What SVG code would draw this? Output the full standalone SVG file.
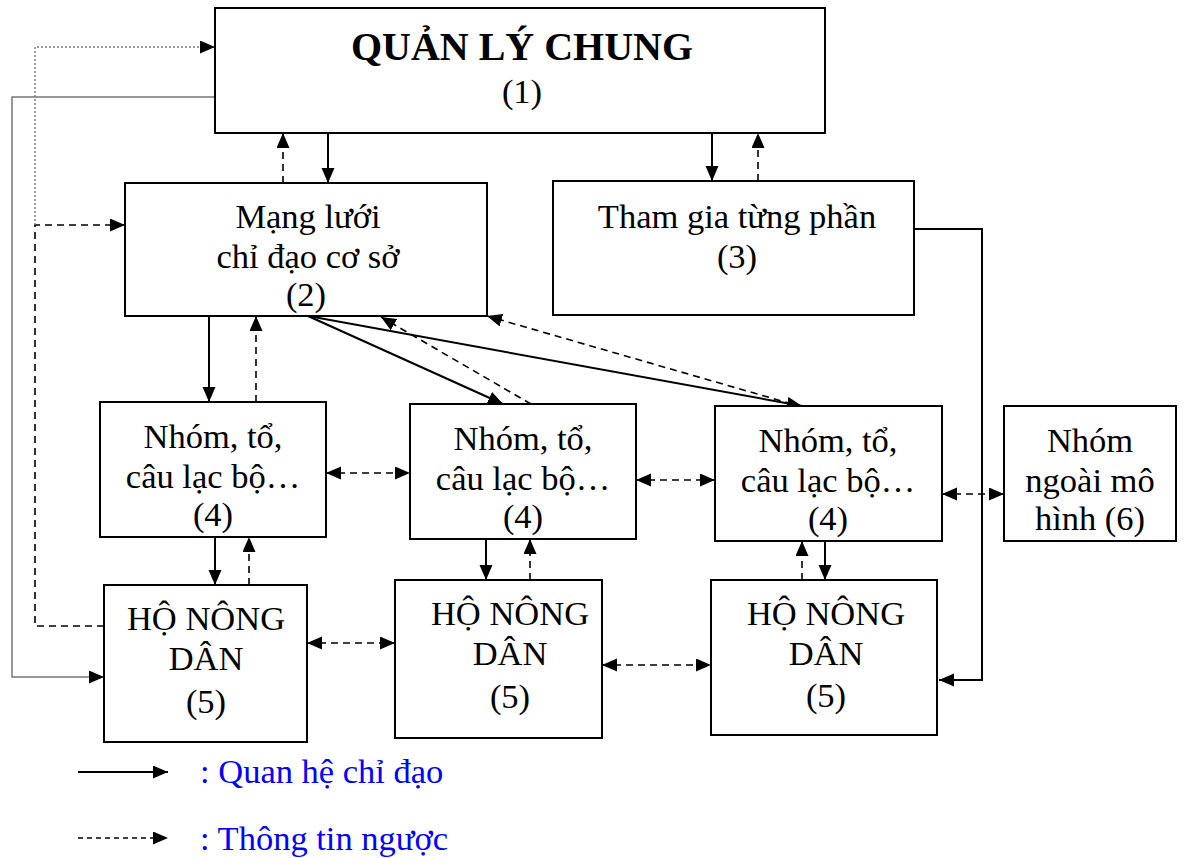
<svg xmlns="http://www.w3.org/2000/svg" width="1187" height="858" viewBox="0 0 1187 858">
  <style>
    .box { fill: #fff; stroke: #000; stroke-width: 2; }
    .t { font-family: "Liberation Serif", "Times New Roman", serif; font-size: 34.5px; fill: #000; text-anchor: middle; }
    .title { font-weight: bold; font-size: 40px; }
    .solid { fill: none; stroke: #000; stroke-width: 2; }
    .dash { fill: none; stroke: #000; stroke-width: 1.6; stroke-dasharray: 7 5; }
    .dot { fill: none; stroke: #777; stroke-width: 1.4; stroke-dasharray: 2 2; }
    .gray { fill: none; stroke: #777; stroke-width: 1.5; }
    .leg { font-family: "Liberation Serif", "Times New Roman", serif; font-size: 34.5px; fill: #0000ff; }
  </style>
  <defs>
    <marker id="arr" markerUnits="userSpaceOnUse" markerWidth="16" markerHeight="14" refX="15" refY="6.5" orient="auto-start-reverse">
      <path d="M0,0 L15,6.5 L0,13 z" fill="#000"/>
    </marker>
  </defs>
  <rect width="1187" height="858" fill="#fff"/>

  <!-- connectors -->
  <g id="connectors">
    <!-- management <-> network -->
    <path class="solid" d="M328,133 V183" marker-end="url(#arr)"/>
    <path class="dash" d="M283,183 V133" marker-end="url(#arr)"/>
    <!-- management <-> partial participation -->
    <path class="solid" d="M712,133 V181" marker-end="url(#arr)"/>
    <path class="dash" d="M758,181 V133" marker-end="url(#arr)"/>
    <!-- feedback from household to top levels -->
    <path class="dash" d="M104,626 H35 V225 H125" marker-end="url(#arr)"/>
    <path class="dot" d="M35,225 V47 H215" marker-end="url(#arr)"/>
    <!-- direct line from management to household -->
    <path class="gray" d="M215,97 H12 V677 H104" marker-end="url(#arr)"/>
    <!-- partial participation to household -->
    <path class="solid" d="M914,229 H982 V680 H939" marker-end="url(#arr)"/>
    <!-- network to groups -->
    <path class="solid" d="M209,316 V402" marker-end="url(#arr)"/>
    <path class="dash" d="M256,402 V316" marker-end="url(#arr)"/>
    <path class="solid" d="M308,316 L503,404" marker-end="url(#arr)"/>
    <path class="solid" d="M308,316 L802,406" marker-end="url(#arr)"/>
    <path class="dash" d="M531,404 L381,317" marker-end="url(#arr)"/>
    <path class="dash" d="M792,404 L487,316" marker-end="url(#arr)"/>
    <!-- groups to households -->
    <path class="solid" d="M215,537 V585" marker-end="url(#arr)"/>
    <path class="dash" d="M249,585 V537" marker-end="url(#arr)"/>
    <path class="solid" d="M486,539 V580" marker-end="url(#arr)"/>
    <path class="dash" d="M530,580 V539" marker-end="url(#arr)"/>
    <path class="solid" d="M825,541 V580" marker-end="url(#arr)"/>
    <path class="dash" d="M802,580 V541" marker-end="url(#arr)"/>
    <!-- peer exchange -->
    <path class="dash" d="M326,473 H410" marker-start="url(#arr)" marker-end="url(#arr)"/>
    <path class="dash" d="M636,480 H715" marker-start="url(#arr)" marker-end="url(#arr)"/>
    <path class="dash" d="M942,494 H1004" marker-start="url(#arr)" marker-end="url(#arr)"/>
    <path class="dash" d="M307,643 H395" marker-start="url(#arr)" marker-end="url(#arr)"/>
    <path class="dash" d="M602,665 H711" marker-start="url(#arr)" marker-end="url(#arr)"/>
  </g>

  <g id="n1">
    <rect class="box" x="215" y="8" width="610" height="125"/>
    <text class="t title" x="522" y="60">QUẢN LÝ CHUNG</text>
    <text class="t" x="522" y="103">(1)</text>
  </g>
  <g id="n2">
    <rect class="box" x="125" y="183" width="362" height="133"/>
    <text class="t" x="308" y="228">Mạng lưới</text>
    <text class="t" x="308" y="268">chỉ đạo cơ sở</text>
    <text class="t" x="306" y="306">(2)</text>
  </g>
  <g id="n3">
    <rect class="box" x="553" y="181" width="361" height="134"/>
    <text class="t" x="737" y="228">Tham gia từng phần</text>
    <text class="t" x="737" y="268">(3)</text>
  </g>
  <g id="n4a">
    <rect class="box" x="100" y="402" width="226" height="135"/>
    <text class="t" x="213" y="448">Nhóm, tổ,</text>
    <text class="t" x="213" y="488">câu lạc bộ…</text>
    <text class="t" x="213" y="526">(4)</text>
  </g>
  <g id="n4b">
    <rect class="box" x="410" y="404" width="226" height="135"/>
    <text class="t" x="523" y="450">Nhóm, tổ,</text>
    <text class="t" x="523" y="490">câu lạc bộ…</text>
    <text class="t" x="523" y="528">(4)</text>
  </g>
  <g id="n4c">
    <rect class="box" x="715" y="406" width="227" height="135"/>
    <text class="t" x="828" y="452">Nhóm, tổ,</text>
    <text class="t" x="828" y="492">câu lạc bộ…</text>
    <text class="t" x="828" y="530">(4)</text>
  </g>
  <g id="n6">
    <rect class="box" x="1004" y="406" width="172" height="135"/>
    <text class="t" x="1090" y="452">Nhóm</text>
    <text class="t" x="1090" y="492">ngoài mô</text>
    <text class="t" x="1090" y="530">hình (6)</text>
  </g>
  <g id="n5a">
    <rect class="box" x="104" y="585" width="203" height="157"/>
    <text class="t" x="206" y="630">HỘ NÔNG</text>
    <text class="t" x="206" y="670">DÂN</text>
    <text class="t" x="206" y="713">(5)</text>
  </g>
  <g id="n5b">
    <rect class="box" x="395" y="580" width="207" height="158"/>
    <text class="t" x="510" y="625">HỘ NÔNG</text>
    <text class="t" x="510" y="665">DÂN</text>
    <text class="t" x="510" y="708">(5)</text>
  </g>
  <g id="n5c">
    <rect class="box" x="711" y="580" width="226" height="155"/>
    <text class="t" x="826" y="625">HỘ NÔNG</text>
    <text class="t" x="826" y="665">DÂN</text>
    <text class="t" x="826" y="707">(5)</text>
  </g>

  <!-- legend -->
  <g id="legend">
    <path class="solid" d="M78,772 H168" marker-end="url(#arr)"/>
    <text class="leg" x="200" y="783">: Quan hệ chỉ đạo</text>
    <path class="dash" d="M78,838 H168" marker-end="url(#arr)" style="stroke-dasharray:5 4"/>
    <text class="leg" x="200" y="850">: Thông tin ngược</text>
  </g>
</svg>
